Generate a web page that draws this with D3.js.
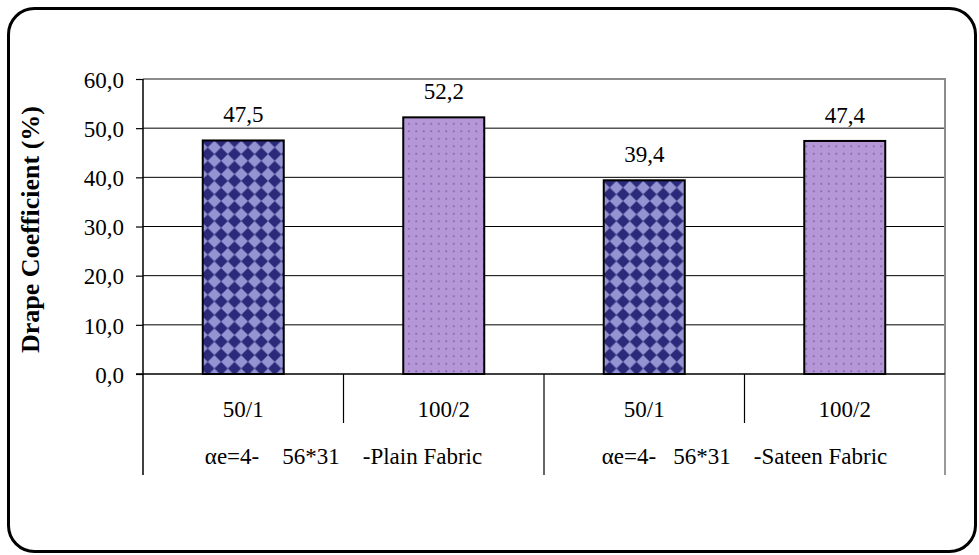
<!DOCTYPE html>
<html><head><meta charset="utf-8">
<script src="https://cdn.jsdelivr.net/npm/d3@7"></script>
<style>body{margin:0;background:#fff}svg{display:block}</style>
</head><body><svg id="c" width="979" height="555"></svg>
<script>
const categories = ["50/1","100/2","50/1","100/2"];
const groups = ["\u03b1e=4-    56*31    -Plain Fabric","\u03b1e=4-   56*31    -Sateen Fabric"];
const groupSize = 2;
const values = [47.5, 52.2, 39.4, 47.4];
const fills = ["url(#checker)","url(#dots)","url(#checker)","url(#dots)"];
const yTicks = [0,10,20,30,40,50,60];
const yTitle = "Drape Coefficient (%)";
const FONT = "'Liberation Serif', serif";

const svg = d3.select("#c");
const defs = svg.append("defs");
const pc = defs.append("pattern").attr("id","checker").attr("patternUnits","userSpaceOnUse")
  .attr("width",13.4).attr("height",13.4);
pc.append("rect").attr("width",13.4).attr("height",13.4).attr("fill","#9494d2");
pc.append("polygon").attr("points","6.7,0 13.4,6.7 6.7,13.4 0,6.7").attr("fill","#2b2a7a");
const pd = defs.append("pattern").attr("id","dots").attr("patternUnits","userSpaceOnUse")
  .attr("width",7.5).attr("height",7.5);
pd.append("rect").attr("width",7.5).attr("height",7.5).attr("fill","#b596d6");
pd.append("rect").attr("x",3).attr("y",3).attr("width",1.6).attr("height",1.6).attr("fill","#7462aa");

// outer rounded border
svg.append("rect").attr("x",8.5).attr("y",8.5).attr("width",967).attr("height",543)
  .attr("rx",26).attr("ry",26).attr("fill","#fff").attr("stroke","#000").attr("stroke-width",3);

const L = 143, R = 945, T = 79, B = 374;
const x = d3.scaleBand().domain(d3.range(categories.length)).range([L,R])
  .paddingInner(0.596).paddingOuter(0.298);
const y = d3.scaleLinear().domain([0,60]).range([B,T]);

// gridlines
svg.append("g").selectAll("line").data(yTicks.filter(d=>d>0 && d<60)).join("line")
  .attr("x1",L).attr("x2",R).attr("y1",d=>y(d)).attr("y2",d=>y(d))
  .attr("stroke","#000").attr("stroke-width",1);
// plot frame top/right (gray)
svg.append("path").attr("d",`M${L},${y(60)}H${R}V${B}`).attr("fill","none")
  .attr("stroke","#8c8c8c").attr("stroke-width",2);

// bars
svg.append("g").selectAll("rect").data(values).join("rect")
  .attr("x",(d,i)=>x(i)).attr("width",x.bandwidth())
  .attr("y",d=>y(d)).attr("height",d=>y(0)-y(d))
  .attr("fill",(d,i)=>fills[i]).attr("stroke","#000").attr("stroke-width",2);

function txt(sel, size){ return sel.attr("font-family",FONT).style("font-family",FONT).style("font-size",(size||23)+"px").attr("fill","#000"); }

// value labels
txt(svg.append("g").selectAll("text").data(values).join("text")
  .attr("x",(d,i)=>x(i)+x.bandwidth()/2).attr("y",d=>y(d)-18)
  .attr("text-anchor","middle")
  .text(d=>d.toFixed(1).replace(".",",")));

// y axis
const ya = svg.append("g").attr("transform",`translate(${L},0)`)
  .call(d3.axisLeft(y).tickValues(yTicks).tickSize(7).tickPadding(12)
    .tickFormat(d=>d.toFixed(1).replace(".",",")));
ya.attr("font-family",FONT).attr("font-size",23);
ya.select(".domain").remove();
ya.selectAll(".tick line").attr("stroke","#000").attr("x2",-7).attr("stroke-width",1.2);
txt(ya.selectAll("text")).attr("dy","0.36em");
// y axis line extended down
svg.append("line").attr("x1",L).attr("x2",L).attr("y1",T).attr("y2",475)
  .attr("stroke","#000").attr("stroke-width",1.5);
// x baseline
svg.append("line").attr("x1",L-7).attr("x2",R).attr("y1",B).attr("y2",B)
  .attr("stroke","#000").attr("stroke-width",1.5);

// category dividers
const step = x.step();
const bounds = d3.range(categories.length+1).map(i=>L + i*step);
svg.append("g").selectAll("line").data(bounds.slice(1)).join("line")
  .attr("x1",d=>d).attr("x2",d=>d).attr("y1",B)
  .attr("y2",(d,i)=>((i+1)%groupSize===0)?475:423)
  .attr("stroke",(d,i)=>i===bounds.length-2?"#555":"#000").attr("stroke-width",1.2);

// category labels
txt(svg.append("g").selectAll("text").data(categories).join("text")
  .attr("x",(d,i)=>x(i)+x.bandwidth()/2).attr("y",417)
  .attr("text-anchor","middle").text(d=>d));

// group labels
txt(svg.append("g").selectAll("text").data(groups).join("text")
  .attr("x",(d,i)=>L + (i*groupSize + groupSize/2)*step).attr("y",464)
  .attr("text-anchor","middle")
  .attr("xml:space","preserve").style("white-space","pre").text(d=>d));

// y title
txt(svg.append("text").attr("transform",`translate(39,${(T+B)/2+3}) rotate(-90)`)
  .attr("text-anchor","middle"), 26).style("font-weight","bold").text(yTitle);
</script></body></html>
